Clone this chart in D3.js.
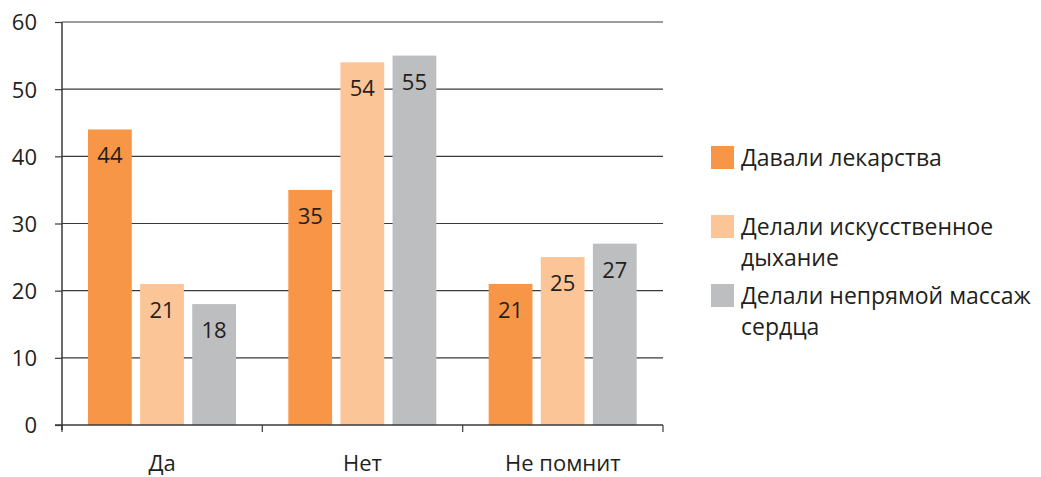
<!DOCTYPE html>
<html>
<head>
<meta charset="utf-8">
<script src="https://cdn.jsdelivr.net/npm/d3@7"></script>
<style>
  body { margin: 0; background: #fff; }
  text { font-family: "Open Sans", "Noto Sans", sans-serif; fill: #231f20; }
</style>
</head>
<body>
<svg id="chart" width="1041" height="477"></svg>
<script>
const categories = ["Да", "Нет", "Не помнит"];
const seriesNames = ["Давали лекарства", "Делали искусственное дыхание", "Делали непрямой массаж сердца"];
const legendLines = [["Давали лекарства"], ["Делали искусственное", "дыхание"], ["Делали непрямой массаж", "сердца"]];
const medicine = [44, 35, 21];
const breathing = [21, 54, 25];
const massage = [18, 55, 27];
const yTicks = [0, 10, 20, 30, 40, 50, 60];
const colors = ["#f79646", "#fbc598", "#bcbec0"];

const series = [medicine, breathing, massage];
const svg = d3.select("#chart");

const x0 = d3.scaleBand().domain(categories).range([62, 663]).paddingInner(0).paddingOuter(0);
const x1 = d3.scaleBand().domain(d3.range(3)).range([26, 200 - 26]).paddingInner(0.16).paddingOuter(0);
const y = d3.scaleLinear().domain([0, 60]).range([425, 22]);

// gridlines
svg.append("g")
  .selectAll("line")
  .data(yTicks.slice(1))
  .enter()
  .append("line")
  .attr("x1", 62)
  .attr("x2", 663)
  .attr("y1", (d) => y(d))
  .attr("y2", (d) => y(d))
  .attr("stroke", "#3a3a3a")
  .attr("stroke-width", 1.2);

// bars
const groups = svg.append("g")
  .selectAll("g")
  .data(categories)
  .enter()
  .append("g")
  .attr("transform", (d) => `translate(${x0(d)},0)`);

groups.selectAll("rect")
  .data((c, i) => series.map((s, k) => ({ k, v: s[i] })))
  .enter()
  .append("rect")
  .attr("x", (d) => x1(d.k))
  .attr("y", (d) => y(d.v))
  .attr("width", x1.bandwidth())
  .attr("height", (d) => y(0) - y(d.v))
  .attr("fill", (d) => colors[d.k]);

groups.selectAll("text")
  .data((c, i) => series.map((s, k) => ({ k, v: s[i] })))
  .enter()
  .append("text")
  .attr("x", (d) => x1(d.k) + x1.bandwidth() / 2)
  .attr("y", (d) => y(d.v) + 34)
  .attr("text-anchor", "middle")
  .style("font-size", "22px")
  .text((d) => d.v);

// y axis
const yAxis = svg.append("g")
  .attr("transform", "translate(62,0)")
  .call(d3.axisLeft(y).tickValues(yTicks).tickSize(7).tickPadding(18));
yAxis.select(".domain").attr("stroke", "#3a3a3a").attr("stroke-width", 1.5).attr("d", "M0,22V430");
yAxis.selectAll(".tick line").attr("stroke", "#3a3a3a").attr("stroke-width", 1.2);
yAxis.selectAll(".tick text").style("font-size", "22px").attr("fill", "#231f20").attr("dy", "0.36em");

// x axis
const xAxis = svg.append("g").attr("transform", `translate(0,${y(0)})`);
xAxis.append("line").attr("x1", 55).attr("x2", 663).attr("stroke", "#3a3a3a").attr("stroke-width", 1.5);
xAxis.selectAll(".sep")
  .data([62, 262.3, 462.7, 663])
  .enter()
  .append("line")
  .attr("x1", (d) => d)
  .attr("x2", (d) => d)
  .attr("y1", 0)
  .attr("y2", 7)
  .attr("stroke", "#3a3a3a")
  .attr("stroke-width", 1.2);
xAxis.selectAll("text")
  .data(categories)
  .enter()
  .append("text")
  .attr("x", (d) => x0(d) + x0.bandwidth() / 2)
  .attr("y", 46)
  .attr("text-anchor", "middle")
  .style("font-size", "22px")
  .text((d) => d);

// legend
const legendY = [146, 215, 284];
const legend = svg.append("g").attr("transform", "translate(711,0)");
const items = legend.selectAll("g")
  .data(seriesNames)
  .enter()
  .append("g")
  .attr("transform", (d, i) => `translate(0,${legendY[i]})`);
items.append("rect")
  .attr("width", 23)
  .attr("height", 23)
  .attr("fill", (d, i) => colors[i]);
items.append("text")
  .attr("x", 30)
  .attr("y", 20)
  .style("font-size", "23px")
  .selectAll("tspan")
  .data((d, i) => legendLines[i])
  .enter()
  .append("tspan")
  .attr("x", 30)
  .attr("dy", (d, j) => (j === 0 ? 0 : 31))
  .text((d) => d);
</script>
</body>
</html>
